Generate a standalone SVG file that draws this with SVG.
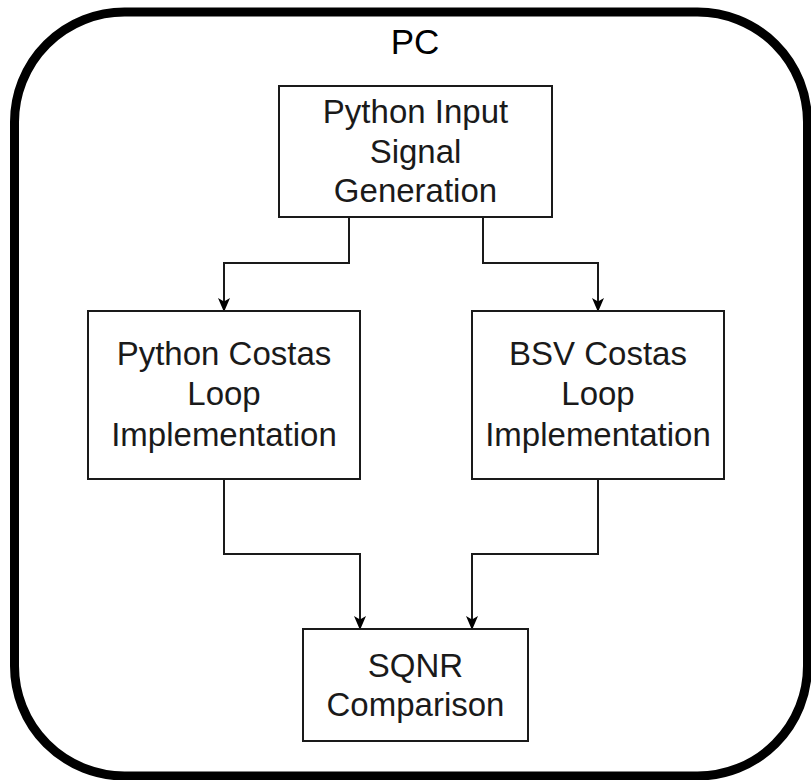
<svg xmlns="http://www.w3.org/2000/svg" width="811" height="780" viewBox="0 0 811 780">
  <style>
    .box { fill: #ffffff; stroke: #1a1a1a; stroke-width: 2; }
    .lbl { font-family: "Liberation Sans", Arial, sans-serif; font-size: 33px; fill: #1a1a1a; text-anchor: middle; }
    .title { font-family: "Liberation Sans", Arial, sans-serif; font-size: 35px; fill: #000000; text-anchor: middle; }
    .wire { fill: none; stroke: #1a1a1a; stroke-width: 2; marker-end: url(#arrow); }
  </style>
  <defs>
    <marker id="arrow" viewBox="0 0 14 12" refX="13" refY="6" markerWidth="14" markerHeight="12" orient="auto" markerUnits="userSpaceOnUse">
      <path d="M0,0 L14,6 L0,12 L3.5,6 Z" fill="#000000"/>
    </marker>
  </defs>

  <rect width="811" height="780" fill="#ffffff"/>

  <!-- PC container -->
  <g id="pc">
    <rect x="14.5" y="12" width="793" height="764" rx="110" ry="110" fill="#ffffff" stroke="#000000" stroke-width="9"/>
    <text class="title" x="415" y="54">PC</text>
  </g>

  <!-- connectors -->
  <g id="connectors">
    <path class="wire" d="M349,217 V263 H224 V311"/>
    <path class="wire" d="M483,217 V263 H598 V311"/>
    <path class="wire" d="M224,479 V554 H360 V629"/>
    <path class="wire" d="M598,479 V554 H472 V629"/>
  </g>

  <g id="input-gen">
    <rect class="box" x="279" y="86" width="273" height="131"/>
    <text class="lbl" x="415.5" y="123">Python Input</text>
    <text class="lbl" x="415.5" y="163">Signal</text>
    <text class="lbl" x="415.5" y="202">Generation</text>
  </g>

  <g id="python-costas">
    <rect class="box" x="88" y="311" width="272" height="168"/>
    <text class="lbl" x="224" y="365">Python Costas</text>
    <text class="lbl" x="224" y="405">Loop</text>
    <text class="lbl" x="224" y="446">Implementation</text>
  </g>

  <g id="bsv-costas">
    <rect class="box" x="472" y="311" width="252" height="168"/>
    <text class="lbl" x="598" y="365">BSV Costas</text>
    <text class="lbl" x="598" y="405">Loop</text>
    <text class="lbl" x="598" y="446">Implementation</text>
  </g>

  <g id="sqnr">
    <rect class="box" x="303" y="629" width="225" height="112"/>
    <text class="lbl" x="415.5" y="677">SQNR</text>
    <text class="lbl" x="415.5" y="716">Comparison</text>
  </g>
</svg>
